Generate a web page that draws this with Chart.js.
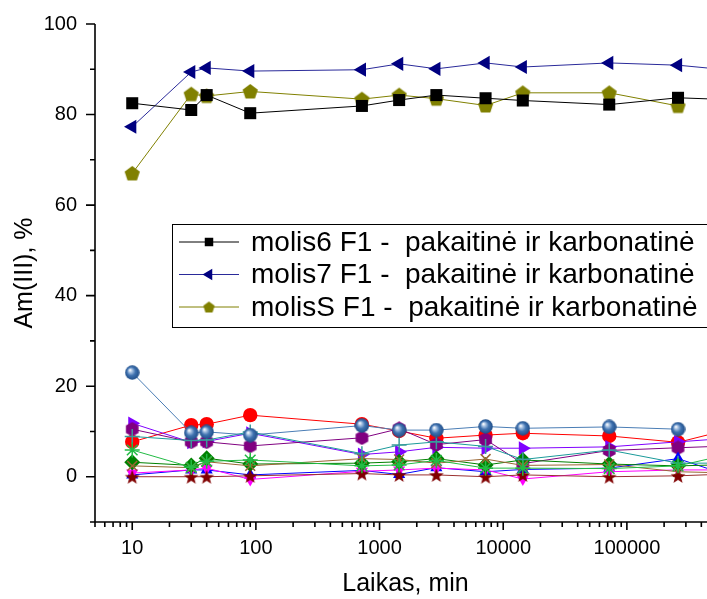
<!DOCTYPE html>
<html><head><meta charset="utf-8">
<script src="https://cdn.jsdelivr.net/npm/chart.js@4.4.1/dist/chart.umd.min.js"></script>
<style>
html,body{margin:0;padding:0;background:#fff;overflow:hidden;width:707px;height:599px}
#wrap{position:absolute;left:0;top:0;width:735px;height:599px}
</style>
</head><body><div id="wrap"><canvas id="c" width="735" height="599"></canvas></div>
<script>
// ---- data ----
const times = [10, 30, 40, 90, 720, 1440, 2880, 7200, 14400, 72000, 259200, 525600];
const xTickLabels = [10, 100, 1000, 10000, 100000];
const yTickLabels = [0, 20, 40, 60, 80, 100];
const legendLabels = [
  'molis6 F1 -  pakaitinė ir karbonatinė',
  'molis7 F1 -  pakaitinė ir karbonatinė',
  'molisS F1 -  pakaitinė ir karbonatinė'
];
const molis6  = [82.5, 81.0, 84.3, 80.3, 81.9, 83.2, 84.3, 83.6, 83.1, 82.2, 83.7, 83.4];
const molis7  = [77.3, 89.4, 90.3, 89.6, 89.9, 91.2, 90.1, 91.4, 90.5, 91.4, 90.9, 90.1];
const molisS  = [67.0, 84.5, 84.1, 85.1, 83.4, 84.3, 83.5, 82.0, 84.8, 84.8, 81.9, null];
const sphere  = [23.0, 9.7, 9.9, 9.2, 11.3, 10.3, 10.3, 11.1, 10.7, 11.0, 10.5, null];
const redC    = [7.7, 11.4, 11.6, 13.6, 11.6, 10.1, 8.5, 9.2, 9.6, 9.0, 7.6, 9.7];
const violet  = [11.8, 7.6, 7.8, 9.6, 4.9, 5.5, 6.5, 6.3, 6.3, 6.6, 7.7, 8.3];
const purple  = [10.5, 7.7, 7.7, 6.8, 8.6, 10.6, 7.1, 8.2, 2.9, 5.8, 6.4, 6.7];
const teal    = [8.9, 8.0, 8.1, 9.9, 5.1, 7.0, 7.7, 6.7, 3.8, 5.9, 3.0, 3.0];
const lgreen  = [5.9, 2.1, 3.4, 3.7, 2.4, 2.6, 3.6, 1.9, 1.9, 1.8, 2.4, 4.3];
const dgreen  = [3.2, 2.5, 4.1, 2.8, 3.0, 3.3, 4.0, 2.6, 3.7, 2.8, 2.4, 2.6];
const brown   = [2.4, 2.0, 3.3, 2.4, 4.0, 3.8, 3.0, 3.9, 2.5, 2.7, 1.1, 0.9];
const blue    = [0.4, 1.5, 1.5, 0.4, 1.4, 0.5, 2.0, 1.1, 1.6, 1.9, 4.0, 1.2];
const magenta = [0.8, 1.5, 1.9, -0.6, 1.2, 1.5, 1.9, 1.5, -0.5, 1.1, 1.5, 1.5];
const darkred = [0.0, 0.0, 0.0, 0.2, 0.7, 0.4, 0.4, 0.0, 0.4, 0.0, 0.2, 0.5];

const FONT = '"Liberation Sans", Arial, Helvetica, sans-serif';

// ---- marker images ----
function mk(size, fn){const c=document.createElement('canvas');c.width=c.height=size;const g=c.getContext('2d');fn(g,size/2);return c;}
function poly(g,cx,cy,r,n,start){g.beginPath();for(let i=0;i<n;i++){const a=start+i*2*Math.PI/n;const px=cx+r*Math.cos(a),py=cy+r*Math.sin(a);i?g.lineTo(px,py):g.moveTo(px,py);}g.closePath();}
function pent(size,r){return mk(size,(g,c)=>{g.fillStyle='#808000';poly(g,c,c+0.6,r,5,-Math.PI/2);g.fill();});}
const pentImg = pent(17,8);
const pentLeg = pent(13,6);
const hexImg = mk(15,(g,c)=>{g.fillStyle='#800080';poly(g,c,c,7.3,6,-Math.PI/2);g.fill();});
const starImg = mk(16,(g,c)=>{g.fillStyle='#800000';g.beginPath();for(let i=0;i<10;i++){const r=i%2?3.2:7.8;const a=-Math.PI/2+i*Math.PI/5;const px=c+r*Math.cos(a),py=c+0.8+r*Math.sin(a);i?g.lineTo(px,py):g.moveTo(px,py);}g.closePath();g.fill();});
const sphereImg = mk(15,(g,c)=>{const gr=g.createRadialGradient(c-2.3,c-2.6,0.3,c,c,7.4);gr.addColorStop(0,'#ffffff');gr.addColorStop(0.22,'#a9c3e3');gr.addColorStop(0.55,'#3f72b0');gr.addColorStop(1,'#1e4c86');g.fillStyle=gr;g.beginPath();g.arc(c,c,7.2,0,2*Math.PI);g.fill();});

function pts(arr){return times.map((t,i)=>({x:t,y:arr[i]}));}
function ds(label, arr, color, style, radius, extra){
  return Object.assign({label, data:pts(arr), borderColor:color, backgroundColor:color,
    pointBackgroundColor:color, pointBorderColor:color, pointStyle:style, pointRadius:radius,
    pointBorderWidth:0, borderWidth:1, tension:0, spanGaps:false}, extra||{});
}

const datasets = [
  ds(legendLabels[0], molis6, '#000000', 'rect', 8.5, {legendRadius:6}),
  ds(legendLabels[1], molis7, '#000080', 'triangle', 8.2, {pointRotation:-90, legendRadius:6.5, borderColor:'#2a2a9a'}),
  ds(legendLabels[2], molisS, '#808000', pentImg, 8, {legendImg:pentLeg}),
  ds('s4', sphere, '#4a7db5', sphereImg, 7),
  ds('s5', lgreen, '#22bb44', 'star', 7.5, {pointBorderWidth:1.5}),
  ds('s6', teal, '#1a9a9a', 'cross', 7.5, {pointBorderWidth:1.5, pointBorderColor:'#3a9a9a'}),
  ds('s7', darkred, '#800000', starImg, 8, {borderColor:'#9a3030'}),
  ds('s8', brown, '#996633', 'crossRot', 7, {pointBorderWidth:1.5}),
  ds('s9', dgreen, '#008000', 'rectRot', 8),
  ds('s10', magenta, '#ff00ff', 'triangle', 7, {pointRotation:180}),
  ds('s11', blue, '#0000ff', 'triangle', 7),
  ds('s12', purple, '#800080', hexImg, 7),
  ds('s13', violet, '#8000ff', 'triangle', 8, {pointRotation:90}),
  ds('s14', redC, '#ff0000', 'circle', 7.2)
];

const axesPlugin = {
  id:'axesTicks',
  afterDraw(chart){
    const ctx=chart.ctx, xs=chart.scales.x, ys=chart.scales.y, a=chart.chartArea;
    ctx.save(); ctx.strokeStyle='#000'; ctx.lineWidth=1.6;
    ctx.beginPath();
    ctx.moveTo(a.left, a.top); ctx.lineTo(a.left, a.bottom);
    ctx.moveTo(a.left-5, a.bottom); ctx.lineTo(a.right+20, a.bottom);
    for(let v=-10; v<=100; v+=10){const p=ys.getPixelForValue(v);const len=(v%20===0)?9:5;ctx.moveTo(a.left-len,p);ctx.lineTo(a.left,p);}
    for(let k=0;k<=6;k++){for(let d=1;d<=9;d++){const v=d*Math.pow(10,k);if(v<xs.min-1e-9||v>xs.max)continue;const p=xs.getPixelForValue(v);const len=(d===1)?8:5;ctx.moveTo(p,a.bottom);ctx.lineTo(p,a.bottom+len);}}
    ctx.stroke(); ctx.restore();
  }
};

const legendPlugin = {
  id:'boxLegend',
  afterDraw(chart){
    const ctx=chart.ctx;
    ctx.save();
    ctx.fillStyle='#fff'; ctx.fillRect(172.5,224.5,600,103);
    ctx.strokeStyle='#000'; ctx.lineWidth=1; ctx.strokeRect(172.5,224.5,600,103);
    for(let i=0;i<3;i++){
      const d=chart.data.datasets[i]; const y=242+i*32.5;
      ctx.strokeStyle=d.borderColor; ctx.lineWidth=1;
      ctx.beginPath(); ctx.moveTo(179,y); ctx.lineTo(239,y); ctx.stroke();
      ctx.fillStyle=d.backgroundColor;
      if(d.legendImg){ctx.drawImage(d.legendImg,209-d.legendImg.width/2,y-d.legendImg.height/2);}
      else{Chart.helpers.drawPoint(ctx,{pointStyle:d.pointStyle,rotation:d.pointRotation||0,radius:d.legendRadius,borderWidth:0},209,y);}
      ctx.fillStyle='#000'; ctx.font='28px '+FONT; ctx.textBaseline='middle'; ctx.textAlign='left';
      ctx.fillText(d.label,251,y+1);
    }
    ctx.restore();
  }
};

new Chart(document.getElementById('c'), {
  type:'line',
  data:{datasets},
  options:{
    responsive:false, animation:false,
    layout:{padding:{top:24,right:19,left:0,bottom:0}},
    plugins:{legend:{display:false}, tooltip:{enabled:false}},
    scales:{
      x:{type:'logarithmic', min:5, max:525600, position:'bottom',
        afterBuildTicks:s=>{s.ticks=xTickLabels.map(v=>({value:v}));},
        afterFit:s=>{s.height=77; s.paddingLeft=0; s.paddingRight=0;},
        ticks:{callback:v=>String(v), color:'#000', font:{family:FONT,size:20}, padding:14, maxRotation:0, autoSkip:false},
        grid:{display:false, drawTicks:false}, border:{display:false},
        title:{display:true, text:'Laikas, min', color:'#000', font:{family:FONT,size:25}, padding:{top:0,bottom:0}}
      },
      y:{type:'linear', min:-10, max:100, position:'left',
        afterBuildTicks:s=>{s.ticks=yTickLabels.map(v=>({value:v}));},
        afterFit:s=>{s.width=95; s.paddingTop=0; s.paddingBottom=0;},
        ticks:{color:'#000', font:{family:FONT,size:20}, padding:18},
        grid:{display:false, drawTicks:false}, border:{display:false},
        title:{display:true, text:'Am(III), %', color:'#000', font:{family:FONT,size:25}, padding:{top:10,bottom:0}}
      }
    }
  },
  plugins:[axesPlugin, legendPlugin]
});
</script></body></html>
